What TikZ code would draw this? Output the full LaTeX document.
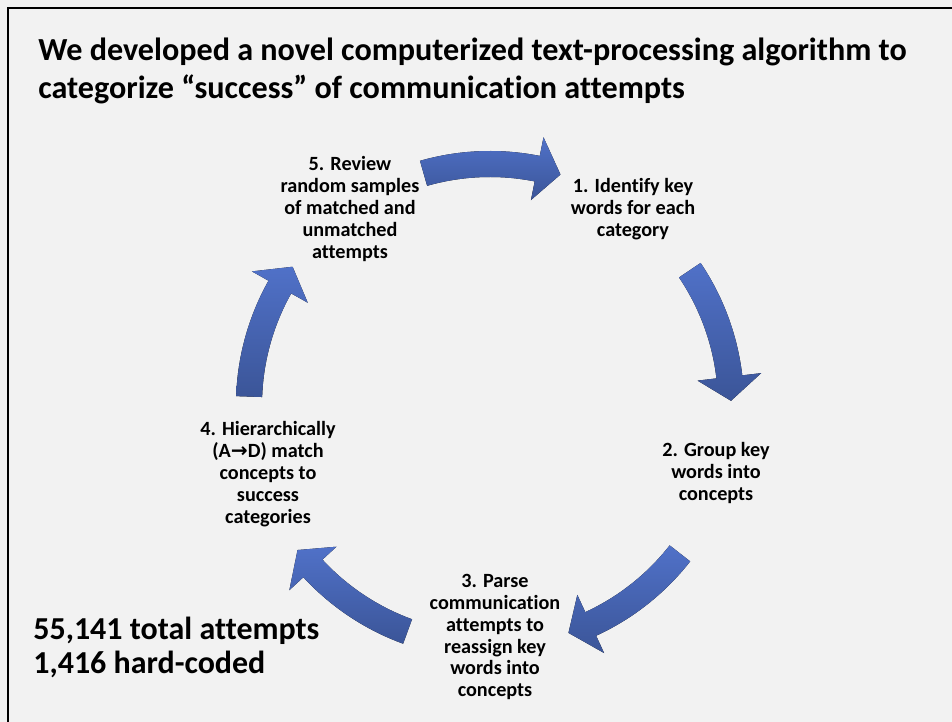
\documentclass[tikz,border=0pt]{standalone}
\usepackage{fontspec}
\setmainfont{Carlito}[Ligatures=NoCommon]
\newfontfamily\arrowfont{DejaVu Sans}
\definecolor{bgGray}{RGB}{242,242,242}
\definecolor{cycTop}{RGB}{80,113,200}
\definecolor{cycBot}{RGB}{59,85,152}

\begin{document}
\begin{tikzpicture}[x=0.02cm,y=0.02cm,
	stage/.style={font=\bfseries\fontsize{11.5pt}{12.5pt}\selectfont, align=center, inner sep=0},
	cycarrow/.style={top color=cycTop, bottom color=cycBot, draw=none}]
	\coordinate (SW) at (0,0);
	\coordinate (NE) at (952,722);
	\coordinate (cyc) at (490,317);
	\coordinate (s1pos) at (633,513);
	\coordinate (s2pos) at (716,249);
	\coordinate (s3pos) at (495,85);
	\coordinate (s4pos) at (268,248);
	\coordinate (s5pos) at (350,513);

	\useasboundingbox (SW) rectangle (NE);
	\fill[bgGray] (SW) rectangle (NE);
	\draw[line width=1.4pt] (8,0) |- (952,714);

	\begin{scope}[shift={(cyc)}]
	\foreach \c in {90,18,-54,-126,-198}{
		\pgfmathsetmacro{\a}{\c+16}
		\pgfmathsetmacro{\b}{\c-17}
		\pgfmathsetmacro{\m}{\b+5.7}
		\fill[cycarrow] (\a:254) arc[start angle=\a, end angle=\m, radius=254] -- (\m:273) -- (\b:241) -- (\m:209) -- (\m:228) arc[start angle=\m, end angle=\a, radius=228] -- cycle;
	}
	\end{scope}

	\node[anchor=west, align=left, inner sep=0, font=\bfseries\fontsize{18.3pt}{21.5pt}\selectfont] (title) at (38,651) {We developed a novel computerized text-processing algorithm to\\categorize “success” of communication attempts};

	\node[stage] (s1) at (s1pos) {1. Identify key\\words for each\\category};
	\node[stage] (s2) at (s2pos) {2. Group key\\words into\\concepts};
	\node[stage] (s3) at (s3pos) {3. Parse\\communication\\attempts to\\reassign key\\words into\\concepts};
	\node[stage] (s4) at (s4pos) {4. Hierarchically\\(A{\arrowfont →}D) match\\concepts to\\success\\categories};
	\node[stage] (s5) at (s5pos) {5. Review\\random samples\\of matched and\\unmatched\\attempts};

	\node[anchor=west, align=left, inner sep=0, font=\bfseries\fontsize{18.2pt}{19.3pt}\selectfont] (totals) at (33,75) {55,141 total attempts\\1,416 hard-coded};
\end{tikzpicture}
\end{document}
